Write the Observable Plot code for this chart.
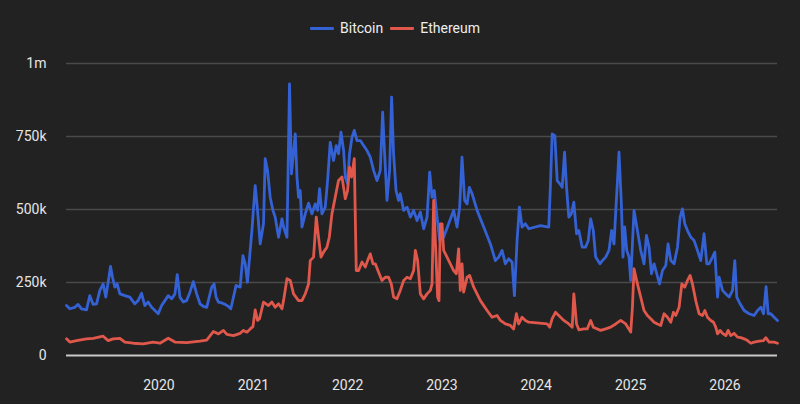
<!DOCTYPE html>
<html>
<head>
<meta charset="utf-8">
<script src="https://cdn.jsdelivr.net/npm/d3@7"></script>
<script src="https://cdn.jsdelivr.net/npm/@observablehq/plot@0.6"></script>
<style>
  html, body { margin: 0; padding: 0; background: #222222; }
  body { width: 800px; height: 404px; overflow: hidden; font-family: Roboto, "Noto Sans", sans-serif; }
  #legend { height: 48px; display: flex; justify-content: center; align-items: center; gap: 7px; color: #eeeeee; font-size: 14px; padding-top: 8px; padding-right: 10px; box-sizing: border-box; }
  #legend .item { display: flex; align-items: center; gap: 6px; }
  #legend .sw { width: 24px; height: 3px; border-radius: 1px; }
  svg { display: block; }
</style>
</head>
<body>
<div id="legend"></div>
<div id="chart"></div>
<script>
// ---- Data (values in thousands, time in decimal years) ----
const seriesNames = ["Bitcoin", "Ethereum"];
const seriesColors = ["#3461d4", "#e0574b"];

const btcYears = [2019.020,2019.055,2019.108,2019.143,2019.179,2019.232,2019.267,2019.303,2019.339,2019.374,2019.409,2019.437,2019.462,2019.487,2019.508,2019.533,2019.557,2019.586,2019.639,2019.692,2019.745,2019.780,2019.816,2019.851,2019.886,2019.923,2019.958,2019.993,2020.029,2020.064,2020.099,2020.135,2020.170,2020.194,2020.223,2020.258,2020.294,2020.329,2020.364,2020.400,2020.435,2020.470,2020.506,2020.541,2020.559,2020.584,2020.605,2020.630,2020.666,2020.701,2020.736,2020.761,2020.789,2020.817,2020.860,2020.889,2020.913,2020.937,2020.984,2021.019,2021.044,2021.072,2021.107,2021.125,2021.150,2021.178,2021.207,2021.231,2021.267,2021.303,2021.320,2021.356,2021.383,2021.404,2021.444,2021.462,2021.479,2021.497,2021.515,2021.550,2021.585,2021.621,2021.656,2021.681,2021.702,2021.727,2021.762,2021.787,2021.815,2021.850,2021.879,2021.903,2021.929,2021.957,2021.975,2021.999,2022.020,2022.046,2022.070,2022.099,2022.134,2022.169,2022.205,2022.240,2022.275,2022.311,2022.346,2022.371,2022.392,2022.417,2022.445,2022.466,2022.487,2022.513,2022.540,2022.558,2022.594,2022.630,2022.665,2022.700,2022.736,2022.771,2022.806,2022.842,2022.870,2022.895,2022.919,2022.948,2022.976,2023.018,2023.071,2023.124,2023.160,2023.188,2023.213,2023.241,2023.267,2023.291,2023.320,2023.373,2023.443,2023.514,2023.567,2023.602,2023.638,2023.673,2023.708,2023.744,2023.769,2023.797,2023.822,2023.850,2023.885,2023.921,2024.045,2024.133,2024.151,2024.169,2024.197,2024.222,2024.250,2024.275,2024.300,2024.321,2024.345,2024.371,2024.398,2024.427,2024.451,2024.487,2024.522,2024.551,2024.576,2024.604,2024.629,2024.674,2024.700,2024.735,2024.770,2024.798,2024.823,2024.852,2024.876,2024.901,2024.918,2024.936,2024.958,2024.982,2025.000,2025.018,2025.035,2025.071,2025.106,2025.141,2025.167,2025.194,2025.220,2025.248,2025.276,2025.305,2025.337,2025.372,2025.396,2025.425,2025.460,2025.496,2025.524,2025.549,2025.573,2025.602,2025.637,2025.672,2025.708,2025.743,2025.778,2025.807,2025.831,2025.867,2025.892,2025.921,2025.938,2025.974,2026.009,2026.044,2026.080,2026.104,2026.125,2026.160,2026.203,2026.256,2026.309,2026.345,2026.380,2026.409,2026.436,2026.458,2026.486,2026.521,2026.557];
const btcK = [171,160,165,175,160,156,205,175,177,223,245,200,251,305,268,234,245,211,205,200,177,188,213,171,183,165,154,143,171,188,205,194,211,277,200,183,188,217,253,211,177,168,165,211,234,245,200,183,180,175,168,160,200,240,234,342,314,251,428,582,497,382,451,674,634,542,497,474,405,468,440,405,930,622,759,611,542,565,440,485,522,485,519,497,571,485,508,599,730,668,719,691,765,702,611,588,691,748,771,736,736,719,702,679,634,599,634,833,691,531,634,885,691,565,531,554,497,508,474,497,462,491,434,474,628,542,565,474,394,405,451,497,440,508,679,531,519,576,554,497,440,382,325,337,360,314,331,320,205,394,508,440,451,434,445,440,588,759,753,599,588,576,696,576,474,485,525,417,428,371,371,394,468,428,337,314,325,337,360,428,382,554,696,519,337,440,360,337,257,382,497,428,360,314,411,371,280,314,280,245,291,308,382,325,314,371,474,502,451,428,405,394,360,325,417,314,314,337,354,200,268,223,211,200,223,325,200,177,154,143,137,154,165,143,236,143,143,131,120];

const ethYears = [2019.020,2019.055,2019.126,2019.232,2019.303,2019.409,2019.462,2019.515,2019.586,2019.639,2019.727,2019.833,2019.939,2020.011,2020.099,2020.170,2020.294,2020.435,2020.506,2020.576,2020.630,2020.683,2020.719,2020.789,2020.860,2020.895,2020.931,2020.966,2020.995,2021.019,2021.044,2021.065,2021.107,2021.160,2021.196,2021.231,2021.267,2021.303,2021.320,2021.356,2021.391,2021.426,2021.479,2021.515,2021.550,2021.585,2021.603,2021.638,2021.667,2021.691,2021.717,2021.744,2021.780,2021.805,2021.833,2021.868,2021.903,2021.940,2021.975,2021.999,2022.020,2022.041,2022.070,2022.091,2022.116,2022.152,2022.187,2022.211,2022.240,2022.269,2022.293,2022.328,2022.364,2022.399,2022.434,2022.463,2022.487,2022.523,2022.558,2022.594,2022.630,2022.665,2022.700,2022.718,2022.742,2022.771,2022.806,2022.842,2022.877,2022.895,2022.912,2022.933,2022.954,2022.969,2022.983,2023.001,2023.018,2023.054,2023.089,2023.124,2023.153,2023.177,2023.195,2023.213,2023.230,2023.267,2023.294,2023.337,2023.408,2023.479,2023.532,2023.585,2023.620,2023.673,2023.726,2023.761,2023.790,2023.814,2023.850,2023.885,2023.921,2024.116,2024.143,2024.169,2024.204,2024.239,2024.292,2024.345,2024.381,2024.398,2024.427,2024.451,2024.504,2024.540,2024.576,2024.604,2024.647,2024.682,2024.735,2024.788,2024.841,2024.894,2024.947,2025.000,2025.018,2025.035,2025.071,2025.106,2025.141,2025.177,2025.212,2025.248,2025.284,2025.319,2025.354,2025.390,2025.425,2025.453,2025.478,2025.513,2025.542,2025.573,2025.602,2025.630,2025.655,2025.690,2025.725,2025.761,2025.786,2025.814,2025.849,2025.878,2025.902,2025.921,2025.948,2025.974,2026.009,2026.033,2026.061,2026.097,2026.133,2026.168,2026.203,2026.239,2026.274,2026.309,2026.362,2026.409,2026.433,2026.468,2026.521,2026.557];
const ethK = [57,46,51,57,59,66,51,57,59,46,42,40,46,42,59,46,44,49,53,82,74,86,72,68,76,86,80,91,99,156,120,126,183,171,183,165,177,160,188,263,257,211,188,188,211,245,325,337,474,405,337,354,371,405,485,542,599,611,537,565,645,611,674,291,291,320,303,325,348,314,314,285,257,268,268,245,200,194,223,257,268,263,291,360,325,211,194,211,223,245,531,371,200,188,451,451,360,337,314,291,280,365,223,314,217,268,274,234,188,154,131,137,120,108,103,91,143,108,131,120,114,108,97,126,148,137,120,108,97,211,108,88,91,91,120,97,91,86,91,97,108,120,108,80,165,297,245,200,154,137,126,114,108,103,143,131,114,148,137,165,245,234,257,274,245,188,143,137,154,131,120,114,97,74,86,76,68,86,68,76,63,61,57,51,42,46,49,51,61,46,46,42];

const xTickYears = [2020, 2021, 2022, 2023, 2024, 2025, 2026];
const yTickValues = [0, 250000, 500000, 750000, 1000000];
const yTickLabels = ["0", "250k", "500k", "750k", "1m"];

// ---- helpers ----
function decYearToDate(t) {
  const y = Math.floor(t);
  const a = Date.UTC(y, 0, 1), b = Date.UTC(y + 1, 0, 1);
  return new Date(a + (t - y) * (b - a));
}
const rows = [];
btcYears.forEach((t, i) => rows.push({series: seriesNames[0], date: decYearToDate(t), value: btcK[i] * 1000}));
ethYears.forEach((t, i) => rows.push({series: seriesNames[1], date: decYearToDate(t), value: ethK[i] * 1000}));

const xTicks = xTickYears.map(y => new Date(Date.UTC(y, 0, 1)));
const xDomain = [decYearToDate(Math.min(btcYears[0], ethYears[0])), decYearToDate(Math.max(btcYears[btcYears.length-1], ethYears[ethYears.length-1]))];
const yFmt = (d) => yTickLabels[yTickValues.indexOf(d)];

// ---- legend ----
const legend = document.getElementById("legend");
seriesNames.forEach((n, i) => {
  const it = document.createElement("div");
  it.className = "item";
  const sw = document.createElement("div");
  sw.className = "sw";
  sw.style.background = seriesColors[i];
  const tx = document.createElement("span");
  tx.textContent = n;
  it.appendChild(sw); it.appendChild(tx);
  legend.appendChild(it);
});

// ---- chart ----
const chart = Plot.plot({
  width: 800,
  height: 356,
  marginTop: 15,
  marginBottom: 49,
  marginLeft: 66,
  marginRight: 23,
  style: {background: "#222222", color: "#e6e6e6", fontFamily: "Roboto, 'Noto Sans', sans-serif", fontSize: "14px"},
  x: {type: "utc", domain: xDomain, label: null},
  y: {domain: [0, 1000000], label: null},
  color: {domain: seriesNames, range: seriesColors},
  marks: [
    Plot.ruleY(yTickValues.slice(1), {stroke: "#4a4a4a", strokeWidth: 1.5}),
    Plot.ruleY([0], {stroke: "#c8c8c8", strokeWidth: 2}),
    Plot.lineY(rows, {x: "date", y: "value", z: "series", stroke: "series", strokeWidth: 2.8, strokeLinejoin: "round"}),
    Plot.axisX({ticks: xTicks, tickFormat: d3.utcFormat("%Y"), tickSize: 0, tickPadding: 25, fontSize: 14, label: null}),
    Plot.axisY({ticks: yTickValues, tickFormat: yFmt, tickSize: 0, tickPadding: 20, fontSize: 14, label: null})
  ]
});
document.getElementById("chart").appendChild(chart);
</script>
</body>
</html>
